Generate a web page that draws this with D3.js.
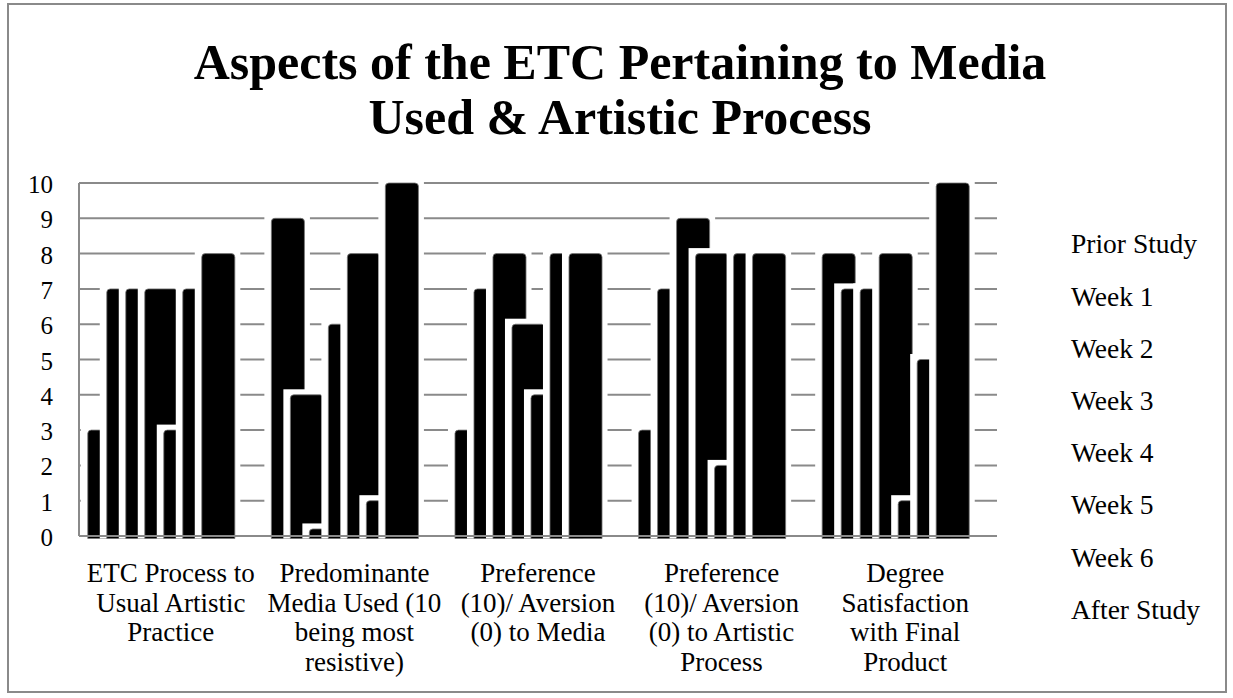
<!DOCTYPE html>
<html>
<head>
<meta charset="utf-8">
<script src="https://cdn.jsdelivr.net/npm/d3@7"></script>
<style>
  body { margin: 0; background: #fff; }
  text { font-family: "Liberation Serif", "DejaVu Serif", serif; fill: #000; }
</style>
</head>
<body>
<svg></svg>
<script>
// category labels, one entry per line as in the picture
const categoryLines = [
    ["ETC Process to", "Usual Artistic", "Practice"],
    ["Predominante", "Media Used (10", "being most", "resistive)"],
    ["Preference", "(10)/ Aversion", "(0) to Media"],
    ["Preference", "(10)/ Aversion", "(0) to Artistic", "Process"],
    ["Degree", "Satisfaction", "with Final", "Product"]
]
const seriesNames = ["Prior Study", "Week 1", "Week 2", "Week 3", "Week 4", "Week 5", "Week 6", "After Study"]

// one value per category; null = no bar drawn in the picture
const priorStudy = [3, 9, 3, 3, 8]
const week1 = [7, 4, 7, 7, 7]
const week2 = [7, 0.2, 8, 9, 7]
const week3 = [7, 6, 6, 8, 8]
const week4 = [3, 8, 4, 2, 1]
const week5 = [7, 1, 8, 8, 5]
const week6 = [8, 10, 8, 8, 10]
const afterStudy = [null, null, null, null, null]
const yTicks = [0, 1, 2, 3, 4, 5, 6, 7, 8, 9, 10]

const seriesValues = [priorStudy, week1, week2, week3, week4, week5, week6, afterStudy]
const titleLines = ["Aspects of the ETC Pertaining to Media", "Used & Artistic Process"]

const width = 1233
const height = 698
const plot = { left: 79, right: 997, top: 183, bottom: 536 }
const gridColor = "#8a8a8a"

const svg = d3.select('svg')
    .attr('width', width)
    .attr('height', height)

// outer frame
svg.append('rect')
    .attr('x', 8).attr('y', 4)
    .attr('width', 1218).attr('height', 688)
    .attr('fill', 'none')
    .attr('stroke', gridColor)
    .attr('stroke-width', 2)

// title
const title = svg.append('text')
    .attr('text-anchor', 'middle')
    .style('font-weight', 'bold')
    .style('font-size', '50px')
title.selectAll('tspan')
    .data(titleLines)
    .enter()
    .append('tspan')
    .attr('x', 620)
    .attr('y', (d, i) => 79 + i * 55)
    .text(d => d)

const x0 = d3.scaleBand()
    .domain(d3.range(categoryLines.length))
    .range([plot.left, plot.right])
    .padding(0)

const x1 = d3.scaleBand()
    .domain(seriesNames)
    .range([0, 152])
const barW = x1.step() * 1.74
const groupOffset = (x0.bandwidth() - (x1(seriesNames[seriesNames.length - 1]) + barW)) / 2

const y = d3.scaleLinear()
    .domain([0, 10])
    .range([plot.bottom, plot.top])

// gridlines
svg.append('g')
    .selectAll('line')
    .data(yTicks.filter(t => t > 0))
    .enter()
    .append('line')
    .attr('x1', plot.left).attr('x2', plot.right)
    .attr('y1', d => y(d)).attr('y2', d => y(d))
    .attr('stroke', gridColor)
    .attr('stroke-width', 2)

svg.append('line')
    .attr('x1', plot.left).attr('x2', plot.left)
    .attr('y1', plot.top).attr('y2', plot.bottom)
    .attr('stroke', gridColor)
    .attr('stroke-width', 2)

// y labels
svg.append('g')
    .selectAll('text')
    .data(yTicks)
    .enter()
    .append('text')
    .attr('x', 53)
    .attr('y', d => y(d) + 10)
    .attr('text-anchor', 'end')
    .style('font-size', '25px')
    .text(d => d)

function topRounded(x, yTop, w, h, r) {
    r = Math.min(r, h, w / 2)
    return `M${x},${yTop + h}V${yTop + r}Q${x},${yTop} ${x + r},${yTop}` +
        `H${x + w - r}Q${x + w},${yTop} ${x + w},${yTop + r}V${yTop + h}Z`
}

// bars, drawn in series order so each one overlaps the one before it
const barData = []
categoryLines.forEach((c, ci) => {
    seriesNames.forEach((s, si) => {
        const v = seriesValues[si][ci]
        if (v != null) barData.push({ ci, s, v })
    })
})

const bars = svg.append('g')
    .selectAll('g')
    .data(barData)
    .enter()
    .append('g')

const barBottom = y(0) + 2.5
bars.append('rect')
    .attr('x', d => x0(d.ci) + groupOffset + x1(d.s) - 7)
    .attr('y', d => y(d.v) - 5.5)
    .attr('width', barW + 12.5)
    .attr('height', d => barBottom - y(d.v) + 5.5)
    .attr('fill', '#fff')

bars.append('path')
    .attr('d', d => topRounded(x0(d.ci) + groupOffset + x1(d.s), y(d.v), barW, barBottom - y(d.v), 3.5))
    .attr('fill', '#000')
    .attr('stroke', '#777')
    .attr('stroke-width', 0.8)

// baseline over the bars
svg.append('line')
    .attr('x1', plot.left).attr('x2', plot.right)
    .attr('y1', y(0)).attr('y2', y(0))
    .attr('stroke', gridColor)
    .attr('stroke-width', 2)

// category labels
const catLabels = svg.append('g')
    .selectAll('text')
    .data(categoryLines)
    .enter()
    .append('text')
    .attr('text-anchor', 'middle')
    .style('font-size', '27px')
catLabels.selectAll('tspan')
    .data((d, i) => d.map(line => ({ line, i })))
    .enter()
    .append('tspan')
    .attr('x', d => x0(d.i) + x0.bandwidth() / 2)
    .attr('y', (d, j) => 582 + j * 29.5)
    .text(d => d.line)

// series names listed on the right
svg.append('g')
    .selectAll('text')
    .data(seriesNames)
    .enter()
    .append('text')
    .attr('x', 1071)
    .attr('y', (d, i) => 253.3 + i * 52.2)
    .style('font-size', '27.5px')
    .text(d => d)
</script>
</body>
</html>
